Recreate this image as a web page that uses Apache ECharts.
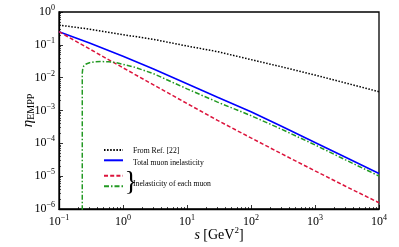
<!DOCTYPE html>
<html><head><meta charset="utf-8">
<script src="https://cdn.jsdelivr.net/npm/echarts@6/dist/echarts.min.js"></script>
<style>html,body{margin:0;padding:0;background:#fff}#c{width:399px;height:247px}</style>
</head><body><div id="c"></div>
<script>
// ---- data ----
const xTicks = [0.1, 1, 10, 100, 1000, 10000];
const yTicks = [1e-6, 1e-5, 1e-4, 1e-3, 1e-2, 1e-1, 1];

const refS   = [0.1, 0.3, 1, 3, 10, 30, 100, 300, 1000, 3000, 10000];
const refEta = [0.40, 0.30, 0.204, 0.147, 0.092, 0.062, 0.0355, 0.0214, 0.0120, 0.0069, 0.00373];

const totalS   = [0.1, 0.3, 1, 3, 10, 30, 100, 300, 1000, 3000, 10000];
const totalEta = [0.251, 0.114, 0.045, 0.0183, 0.00655, 0.00254, 9.2e-4, 3.32e-4, 1.06e-4, 3.76e-5, 1.2e-5];

const muonAS   = [0.1, 0.3, 1, 3, 10, 30, 100, 300, 1000, 3000, 10000];
const muonAEta = [0.251, 0.075, 0.020, 6.04e-3, 1.63e-3, 5.0e-4, 1.46e-4, 4.82e-5, 1.45e-5, 4.94e-6, 1.55e-6];

const muonBS   = [0.231, 0.231, 0.235, 0.245, 0.265, 0.3, 0.35, 0.45, 0.6, 0.8, 1, 1.5, 3, 10, 30, 100, 300, 1000, 3000, 10000];
const muonBEta = [1e-7, 0.0136, 0.019, 0.023, 0.026, 0.0285, 0.0302, 0.031, 0.0305, 0.0285, 0.0255, 0.021, 0.0132, 0.00457, 1.8e-3, 6.98e-4, 2.69e-4, 8.95e-5, 3.13e-5, 1.01e-5];

const names = ['From Ref. [22]', 'Total muon inelasticity', 'Inelasticity of each muon (a)', 'Inelasticity of each muon (b)'];
const legendLabels = ['From Ref. [22]', 'Total muon inelasticity', 'Inelasticity of each muon'];

// minor tick positions (2..9 per decade)
function minors(lo, hi) {
  const out = [];
  for (let e = lo; e < hi; e++) for (let m = 2; m <= 9; m++) out.push(+(m * Math.pow(10, e)).toPrecision(3));
  return out;
}
const xMinor = minors(-1, 4);
const yMinor = minors(-6, 0);

const zip = (a, b) => a.map((v, i) => [v, b[i]]);
const serif = '"Liberation Serif","DejaVu Serif",serif';
function powLabel(v) {
  const e = Math.round(Math.log10(v));
  return '{b|10}{s|' + (e < 0 ? '\u2212' + (-e) : e) + '}';
}
const labRich = {
  b: { fontFamily: serif, fontSize: 12, color: '#000' },
  s: { fontFamily: serif, fontSize: 8, color: '#000', padding: [0, 0, 8, 0] }
};

const chart = echarts.init(document.getElementById('c'), null, { renderer: 'canvas' });
const axisCommon = {
  type: 'log', logBase: 10,
  axisLine: { show: true, onZero: false, lineStyle: { color: '#000', width: 1.3 } },
  splitLine: { show: false },
  minorTick: { show: false }
};
const legFont = '7.7px ' + serif;
chart.setOption({
  animation: false,
  backgroundColor: '#fff',
  grid: { left: 59, right: 20, top: 12, bottom: 38, show: true, borderColor: '#000', borderWidth: 1.3, backgroundColor: 'transparent', containLabel: false, outerBoundsMode: 'none' },
  xAxis: [
    Object.assign({}, axisCommon, {
      min: 0.1, max: 10000, position: 'bottom',
      axisTick: { show: true, inside: true, length: 4, customValues: xTicks, lineStyle: { color: '#000', width: 0.8 } },
      axisLabel: { customValues: xTicks, formatter: powLabel, rich: labRich, margin: 5 },
      name: '{i|s} [GeV{sp|2}]', nameLocation: 'middle', nameGap: 17, nameMoveOverlap: false,
      nameTextStyle: { fontFamily: serif, fontSize: 14, color: '#000',
        rich: { i: { fontFamily: serif, fontStyle: 'italic', fontSize: 14, color: '#000' },
                sp: { fontFamily: serif, fontSize: 9, color: '#000', padding: [0, 0, 9, 0] } } }
    }),
    Object.assign({}, axisCommon, {
      min: 0.1, max: 10000, position: 'bottom',
      axisLine: { show: false },
      axisTick: { show: true, inside: true, length: 2, customValues: xMinor, lineStyle: { color: '#000', width: 0.7 } },
      axisLabel: { show: false }
    })
  ],
  yAxis: [
    Object.assign({}, axisCommon, {
      min: 1e-6, max: 1, position: 'left',
      axisTick: { show: true, inside: true, length: 4, customValues: yTicks, lineStyle: { color: '#000', width: 0.8 } },
      axisLabel: { customValues: yTicks, formatter: powLabel, rich: labRich, margin: 4 },
      name: '{e|\u03b7}{sb|EMPP}', nameLocation: 'middle', nameGap: 23, nameMoveOverlap: false,
      nameTextStyle: { fontFamily: serif, fontSize: 14, color: '#000',
        rich: { e: { fontFamily: serif, fontStyle: 'italic', fontSize: 15, color: '#000' },
                sb: { fontFamily: serif, fontSize: 10, color: '#000', padding: [6, 0, 0, 0] } } }
    }),
    Object.assign({}, axisCommon, {
      min: 1e-6, max: 1, position: 'left',
      axisLine: { show: false },
      axisTick: { show: true, inside: true, length: 2, customValues: yMinor, lineStyle: { color: '#000', width: 0.7 } },
      axisLabel: { show: false }
    })
  ],
  legend: [
    { data: [names[0], names[1]], orient: 'vertical', left: 103, top: 146, padding: 0,
      itemWidth: 19, itemHeight: 10, itemGap: 2.3, selectedMode: false,
      itemStyle: { opacity: 0 }, formatter: () => '', textStyle: { fontSize: 8, lineHeight: 10 } },
    { data: [names[2], names[3]], orient: 'vertical', left: 103, top: 171.7, padding: 0,
      itemWidth: 19, itemHeight: 10, itemGap: 2.6, selectedMode: false,
      itemStyle: { opacity: 0 }, formatter: () => '', textStyle: { fontSize: 8, lineHeight: 10 } }
  ],
  graphic: [
    { type: 'text', left: 133, top: 147, style: { text: legendLabels[0], font: legFont, fill: '#000' } },
    { type: 'text', left: 133, top: 159.3, style: { text: legendLabels[1], font: legFont, fill: '#000' } },
    { type: 'text', left: 124.5, top: 169.5, style: { text: '}', font: '27px ' + serif, fill: '#000' } },
    { type: 'text', left: 133, top: 180, style: { text: legendLabels[2], font: legFont, fill: '#000' } }
  ],
  series: [
    { name: names[0], type: 'line', data: zip(refS, refEta), showSymbol: false, symbol: 'none', clip: true,
      lineStyle: { color: '#000', width: 1.5, type: [1.5, 1.6] }, itemStyle: { color: '#000' } },
    { name: names[1], type: 'line', data: zip(totalS, totalEta), showSymbol: false, symbol: 'none', clip: true,
      lineStyle: { color: '#0000ff', width: 1.6 }, itemStyle: { color: '#0000ff' } },
    { name: names[2], type: 'line', data: zip(muonAS, muonAEta), showSymbol: false, symbol: 'none', clip: true,
      lineStyle: { color: '#dc143c', width: 1.5, type: [4, 2.2] }, itemStyle: { color: '#dc143c' } },
    { name: names[3], type: 'line', data: zip(muonBS, muonBEta), showSymbol: false, symbol: 'none', clip: true,
      lineStyle: { color: '#229922', width: 1.5, type: [5, 2, 1.5, 2] }, itemStyle: { color: '#229922' } }
  ]
});
</script></body></html>
